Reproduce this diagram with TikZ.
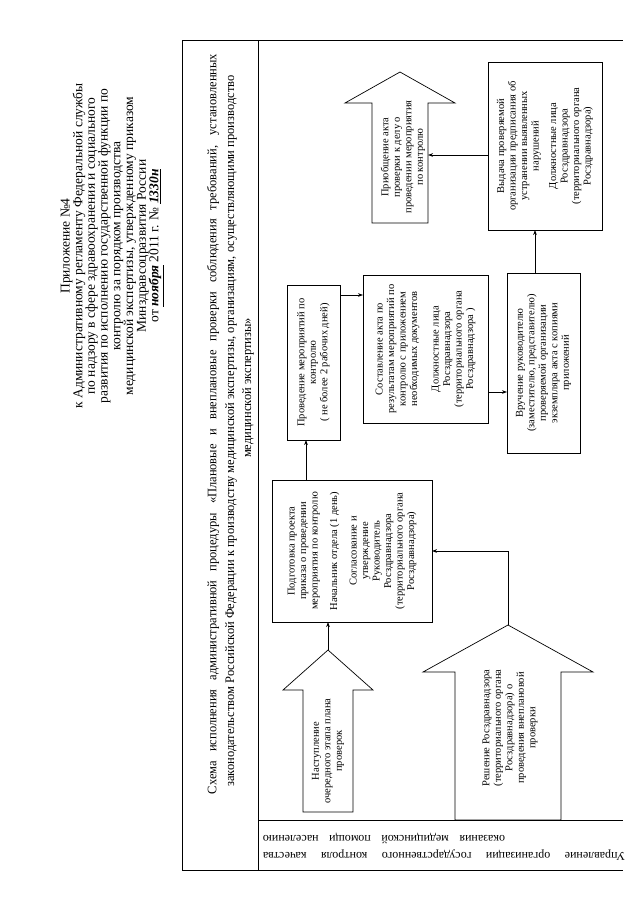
\documentclass[tikz,border=0pt]{standalone}
\usepackage{fontspec}
\setmainfont{Liberation Serif}
\newfontfamily\titlefont[FakeStretch=0.96]{Liberation Serif}
\usetikzlibrary{arrows.meta}
\begin{document}
\begin{tikzpicture}[x=1pt,y=-1pt,
  every node/.style={inner sep=0pt,outer sep=0pt},
  boxtext/.style={rotate=90,align=center,font=\fontsize{10.5}{11.5}\selectfont},
  procbox/.style={boxtext,draw,line width=0.7pt},
  shapeline/.style={draw,line width=0.7pt},
  titletext/.style={rotate=90,font=\titlefont\fontsize{13}{17}\selectfont},
  conn/.style={line width=0.6pt,-{Stealth[length=5pt,width=3.6pt]}},
  framel/.style={line width=0.6pt}]
\useasboundingbox (0,0) rectangle (640,905);
\fill[white] (0,0) rectangle (640,905);

% header
\node[rotate=90,align=center,font=\fontsize{13.5}{12.7}\selectfont] (hdr) at (112,246)
 {Приложение №4\\
  к Административному регламенту Федеральной службы\\
  по надзору в сфере здравоохранения и социального\\
  развития по исполнению государственной функции по\\
  контролю за порядком производства\\
  медицинской экспертизы, утвержденному приказом\\
  Минздравсоцразвития России\\
  от \underline{\textit{\textbf{ноября}}} 2011 г. № \underline{\textit{\textbf{1330н}}}};

% frame
\draw[framel] (182,40) -- (623,40);
\draw[framel] (182,40) -- (182,870);
\draw[framel] (258,40) -- (258,870);
\draw[framel] (258,820) -- (623,820);
\draw[framel] (182,870) -- (623,870);

% title
\node[titletext] (ttl1) at (213,424)
 {\makebox[740pt][s]{Схема исполнения административной процедуры «Плановые и внеплановые проверки соблюдения требований, установленных}};
\node[titletext] (ttl2) at (231,431)
 {законодательством Российской Федерации к производству медицинской экспертизы, организациям, осуществляющими производство};
\node[titletext] (ttl3) at (248,388) {медицинской экспертизы»};

% lane label
\node[rotate=180,font=\fontsize{12}{14}\selectfont] (lane1) at (444,855)
 {\makebox[362pt][s]{Управление организации государственного контроля качества}};
\node[rotate=180,font=\fontsize{12}{14}\selectfont] (lane2) at (384,838)
 {\makebox[242pt][s]{оказания медицинской помощи населению}};

% block arrow: Наступление
\draw[shapeline] (328,650) -- (373,690) -- (353,690) -- (353,812) -- (303,812) -- (303,690) -- (283,690) -- cycle;
\coordinate (atip) at (328,650);
\node[boxtext] (atext) at (328,751) {Наступление\\очередного этапа плана\\проверок};

% block arrow: Решение
\draw[shapeline] (508,625) -- (593,672) -- (561,672) -- (561,820) -- (455,820) -- (455,672) -- (423,672) -- cycle;
\coordinate (rtip) at (508,625);
\node[boxtext] (rtext) at (510,728) {Решение Росздравнадзора\\(территориального органа\\Росздравнадзора) о\\проведения внеплановой\\проверки};

% block arrow: Приобщение
\draw[shapeline] (400,72) -- (455,103) -- (428,103) -- (428,223) -- (372,223) -- (372,103) -- (345,103) -- cycle;
\coordinate (pright) at (428,155);
\node[boxtext] (ptext) at (403,157) {Приобщение акта\\проверки к делу о\\проведении мероприятия\\по контролю};

% boxes
\node[procbox,minimum width=142pt,minimum height=160pt] (b1) at (352,551)
 {Подготовка проекта\\приказа о проведении\\мероприятия по контролю\\[8pt]Начальник отдела (1 день)\\[8pt]Согласование и\\утверждение\\Руководитель\\Росздравнадзора\\(территориального органа\\Росздравнадзора)};
\node[procbox,minimum width=155pt,minimum height=53pt] (b2) at (313.5,362.5)
 {Проведение мероприятий по\\контролю\\( не более 2 рабочих дней)};
\node[procbox,minimum width=148pt,minimum height=125pt] (b3) at (425.5,349)
 {Составление акта по\\результатам мероприятий по\\контролю с приложением\\необходимых документов\\[10pt]Должностные лица\\Росздравнадзора\\(территориального органа\\Росздравнадзора )};
\node[procbox,minimum width=180pt,minimum height=73pt] (b4) at (543.5,363)
 {Вручение руководителю\\(заместителю, представителю)\\проверяемой организации\\экземпляра акта с копиями\\приложений};
\node[procbox,minimum width=168pt,minimum height=114pt] (vb) at (545,146)
 {Выдача проверяемой\\организации предписания об\\устранении выявленных\\нарушений\\[6pt]Должностные лица\\Росздравнадзора\\(территориального органа\\Росздравнадзора)};

% connectors
\coordinate (c12) at (306,0);
\coordinate (c23) at (0,295);
\coordinate (c34) at (0,392);
\coordinate (c4v) at (535,0);
\draw[conn] (atip) -- (atip |- b1.west);
\draw[conn] (rtip) |- (b1.south);
\draw[conn] (b1.east -| c12) -- (b2.west -| c12);
\draw[conn] (b2.south |- c23) -- (b3.north |- c23);
\draw[conn] (b3.south |- c34) -- (b4.north |- c34);
\draw[conn] (b4.east -| c4v) -- (vb.west -| c4v);
\draw[conn] (vb.north |- pright) -- (pright);
\end{tikzpicture}
\end{document}
